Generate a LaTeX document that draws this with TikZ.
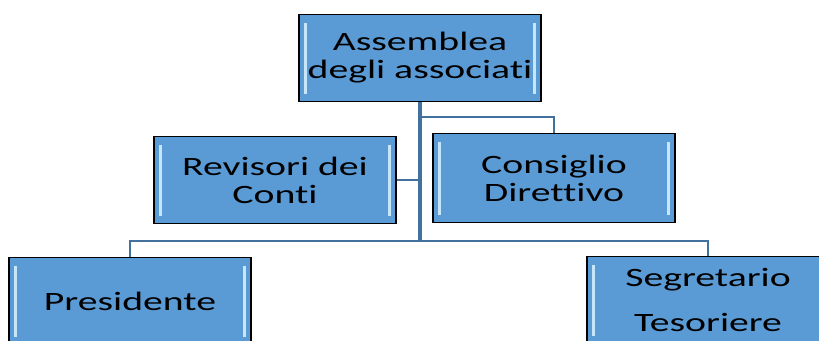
\documentclass[tikz,border=0pt]{standalone}
\usepackage{fontspec}
\newfontfamily\boxfont[FakeStretch=1.5,Ligatures={NoCommon,NoRare,NoContextual}]{Carlito}
\definecolor{boxblue}{RGB}{91,155,213}
\definecolor{bevel}{RGB}{200,230,250}
\definecolor{linkblue}{RGB}{65,113,156}
\begin{document}
\begin{tikzpicture}[x=1pt,y=-1pt,
  orgbox/.style={draw=black, line width=1.5pt, fill=boxblue,
    minimum width=242pt, minimum height=87pt, inner sep=0pt,
    align=center, font=\boxfont\fontsize{26.5}{28}\selectfont,
    path picture={
      \fill[bevel] ([xshift=5pt,yshift=-8pt]path picture bounding box.north west)
        rectangle ([xshift=8pt,yshift=8pt]path picture bounding box.south west);
      \fill[bevel] ([xshift=-8pt,yshift=-8pt]path picture bounding box.north east)
        rectangle ([xshift=-5pt,yshift=8pt]path picture bounding box.south east);
    }},
  link/.style={draw=linkblue, line width=2pt},
  trunk/.style={draw=linkblue, line width=3.5pt}]
\useasboundingbox (0,0) rectangle (819,340);
\clip (0,0) rectangle (819,340);
\node[orgbox] (top) at (420,58) {Assemblea\\degli associati};
\node[orgbox] (rev) at (275,180) {Revisori dei\\Conti};
\node[orgbox, minimum height=89pt] (cons) at (554,178) {Consiglio\\Direttivo};
\node[orgbox] (pres) at (130,301) {Presidente};
\node[orgbox] (seg) at (708,300) {Segretario\\[17pt]Tesoriere};
\coordinate (j) at (420,241);
\coordinate (c) at (420,117);
\draw[trunk] (top.south) -- (j);
\draw[link] (rev.east) -- (rev.east -| top.south);
\draw[link] (c) -| (cons.north);
\draw[link] (pres.north) |- (j) -| (seg.north);
\end{tikzpicture}
\end{document}
